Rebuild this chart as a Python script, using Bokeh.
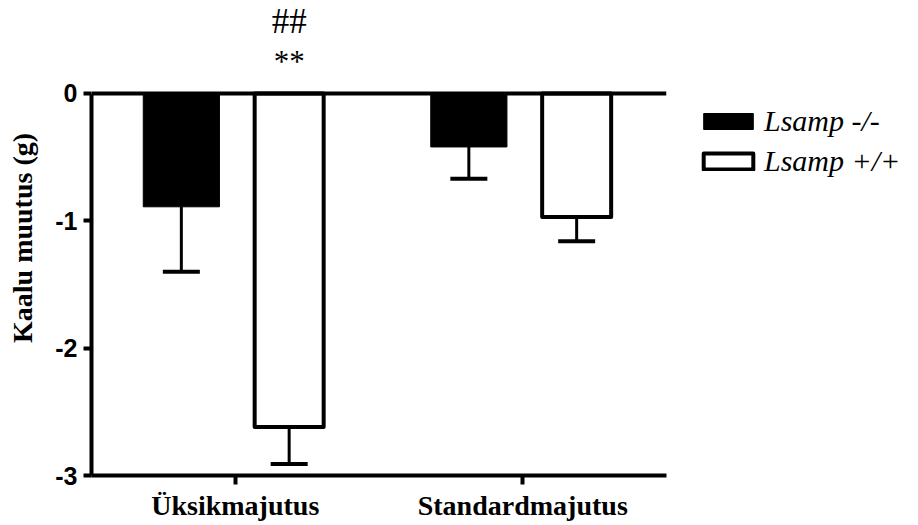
from bokeh.plotting import figure
from bokeh.models import (ColumnDataSource, FactorRange, FixedTicker, Whisker, TeeHead,
                          LabelSet, Span, Legend, LegendItem)
from bokeh.transform import dodge
from bokeh.embed import file_html
from bokeh.resources import INLINE

# ---- data ----
categories = ["Üksikmajutus", "Standardmajutus"]
series_names = ["Lsamp -/-", "Lsamp +/+"]
ko_values = [-0.89, -0.42]      # Lsamp -/-
ko_errors = [0.51, 0.25]
wt_values = [-2.62, -0.97]      # Lsamp +/+
wt_errors = [0.29, 0.19]
y_ticks = [-3, -2, -1, 0]
y_tick_labels = ["-3", "-2", "-1", "0"]
sig_categories = ["Üksikmajutus"]
sig_hash = ["##"]
sig_star = ["**"]
sig_hash_y = [0.471]
sig_star_y = [0.165]

ko = ColumnDataSource(dict(cat=categories, top=[0] * len(categories), val=ko_values,
                           low=[v - e for v, e in zip(ko_values, ko_errors)]))
wt = ColumnDataSource(dict(cat=categories, top=[0] * len(categories), val=wt_values,
                           low=[v - e for v, e in zip(wt_values, wt_errors)]))

p = figure(x_range=FactorRange(*categories, range_padding=0), y_range=(-3, 0.730),
           frame_width=575, frame_height=475, output_backend="svg", toolbar_location=None,
           min_border_left=91, min_border_right=244, min_border_top=0, min_border_bottom=0)
p.outline_line_color = None
p.xgrid.grid_line_color = None
p.ygrid.grid_line_color = None
p.background_fill_color = "white"

off = 0.1875
r_ko = p.vbar(x=dodge("cat", -off, range=p.x_range), top="top", bottom="val", width=0.265,
              source=ko, fill_color="black", line_color="black", line_width=1, line_join="round")
r_wt = p.vbar(x=dodge("cat", off, range=p.x_range), top="top", bottom="val", width=0.24,
              source=wt, fill_color="white", line_color="black", line_width=4, line_join="round")

for src, o in ((ko, -off), (wt, off)):
    w = Whisker(base=dodge("cat", o, range=p.x_range), upper="val", lower="low", source=src,
                dimension="height", line_width=3, line_color="black",
                upper_head=None,
                lower_head=TeeHead(size=37, line_width=4, line_color="black"))
    p.add_layout(w)

# zero line
p.add_layout(Span(location=0, dimension="width", line_color="black", line_width=4))

# axes
p.yaxis.bounds = (min(y_ticks), max(y_ticks))
p.yaxis.ticker = FixedTicker(ticks=y_ticks)
p.yaxis.major_label_overrides = {t: s for t, s in zip(y_ticks, y_tick_labels)}
p.yaxis.minor_tick_line_color = None
p.yaxis.major_tick_in = 0
p.yaxis.major_tick_out = 8
p.yaxis.major_tick_line_width = 4
p.yaxis.axis_line_width = 4
p.yaxis.major_label_text_font = "Liberation Sans"
p.yaxis.major_label_text_font_style = "bold"
p.yaxis.major_label_text_font_size = "25px"
p.yaxis.major_label_text_color = "black"
p.yaxis.major_label_standoff = 6
p.yaxis.axis_label = "Kaalu muutus (g)"
p.yaxis.axis_label_text_font = "Liberation Serif"
p.yaxis.axis_label_text_font_style = "bold"
p.yaxis.axis_label_text_font_size = "28px"
p.yaxis.axis_label_text_color = "black"
p.yaxis.axis_label_standoff = 14

p.xaxis.major_tick_in = 0
p.xaxis.major_tick_out = 9
p.xaxis.major_tick_line_width = 4
p.xaxis.axis_line_width = 4
p.xaxis.major_label_text_font = "Liberation Serif"
p.xaxis.major_label_text_font_style = "bold"
p.xaxis.major_label_text_font_size = "28px"
p.xaxis.major_label_text_color = "black"
p.xaxis.major_label_standoff = 5

# significance marks
sig = ColumnDataSource(dict(cat=sig_categories, hash=sig_hash, star=sig_star,
                            yh=sig_hash_y, ys=sig_star_y))
for col, ycol, fs in (("hash", "yh", "35px"), ("star", "ys", "31px")):
    p.add_layout(LabelSet(x=dodge("cat", off, range=p.x_range), y=ycol, text=col, source=sig,
                          text_align="center", text_baseline="alphabetic",
                          text_font="Liberation Sans", text_font_size=fs, text_color="black"))

legend = Legend(items=[LegendItem(label=series_names[0], renderers=[r_ko]),
                       LegendItem(label=series_names[1], renderers=[r_wt])],
                location=(31, 297), orientation="vertical",
                glyph_width=62, glyph_height=20, label_height=20, label_standoff=5,
                spacing=6, padding=0, margin=0,
                border_line_color=None, background_fill_alpha=0,
                label_text_font="Liberation Serif", label_text_font_style="italic",
                label_text_font_size="30px", label_text_color="black")
p.add_layout(legend, "right")

open("out.html", "w").write(file_html(p, INLINE))
